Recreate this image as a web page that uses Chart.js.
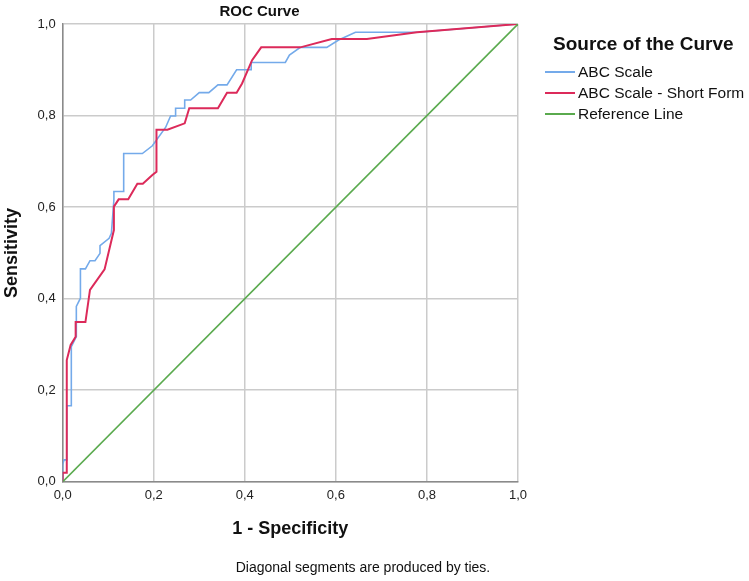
<!DOCTYPE html>
<html><head><meta charset="utf-8">
<script src="https://cdn.jsdelivr.net/npm/chart.js@4/dist/chart.umd.min.js"></script>
<style>
html,body{margin:0;padding:0;background:#fff;}
#wrap{position:relative;width:749px;height:581px;font-family:"Liberation Sans",Arial,sans-serif;color:#111;overflow:hidden;}
#c{position:absolute;left:0;top:0;}
#legend{position:absolute;left:545px;top:33px;}
#legend .ttl{font-weight:bold;font-size:19px;margin-left:8px;line-height:22px;margin-bottom:6px;}
#legend .it{position:relative;height:21px;line-height:21px;font-size:15.5px;padding-left:33px;white-space:nowrap;}
#legend .it span{position:absolute;left:0;top:10px;width:30px;height:2px;}
#note{position:absolute;left:0;width:726px;text-align:center;top:559px;font-size:14px;}
</style></head>
<body>
<div id="wrap">
<canvas id="c" width="580" height="581"></canvas>
<div id="legend"><div class="ttl">Source of the Curve</div>
<div class="it"><span style="background:#74aaea"></span>ABC Scale</div>
<div class="it"><span style="background:#dc2a5a"></span>ABC Scale - Short Form</div>
<div class="it"><span style="background:#5aaa4e"></span>Reference Line</div>
</div>
<div id="note">Diagonal segments are produced by ties.</div>
</div>
<script>
const seriesNames = ["ABC Scale", "ABC Scale - Short Form", "Reference Line"];
const tickValues = [0, 0.2, 0.4, 0.6, 0.8, 1.0];

const abcX = [0, 0, 0.003, 0.009, 0.009, 0.019, 0.019, 0.030, 0.030, 0.039, 0.039, 0.050, 0.060, 0.071, 0.082, 0.082, 0.102, 0.107, 0.1125, 0.1125, 0.134, 0.134, 0.175, 0.197, 0.226, 0.237, 0.248, 0.248, 0.268, 0.268, 0.281, 0.300, 0.321, 0.341, 0.361, 0.382, 0.414, 0.414, 0.489, 0.498, 0.522, 0.580, 0.606, 0.643, 0.780, 1];
const abcY = [0, 0.037, 0.048, 0.048, 0.166, 0.166, 0.295, 0.317, 0.383, 0.401, 0.465, 0.465, 0.483, 0.483, 0.499, 0.516, 0.532, 0.543, 0.616, 0.634, 0.634, 0.717, 0.717, 0.734, 0.774, 0.799, 0.799, 0.816, 0.816, 0.834, 0.834, 0.850, 0.850, 0.867, 0.867, 0.900, 0.900, 0.916, 0.916, 0.932, 0.949, 0.949, 0.965, 0.982, 0.982, 1];

const shortX = [0, 0, 0.009, 0.009, 0.0175, 0.0285, 0.0285, 0.050, 0.060, 0.092, 0.1125, 0.1125, 0.123, 0.144, 0.164, 0.176, 0.197, 0.206, 0.206, 0.230, 0.268, 0.278, 0.341, 0.361, 0.382, 0.394, 0.416, 0.436, 0.522, 0.591, 0.668, 0.778, 1];
const shortY = [0, 0.020, 0.020, 0.266, 0.299, 0.317, 0.349, 0.349, 0.419, 0.464, 0.550, 0.601, 0.617, 0.617, 0.651, 0.651, 0.670, 0.677, 0.769, 0.769, 0.783, 0.816, 0.816, 0.850, 0.850, 0.870, 0.921, 0.949, 0.949, 0.967, 0.967, 0.982, 1];

const refX = [0, 1];
const refY = [0, 1];

const colors = ["#74aaea", "#dc2a5a", "#5aaa4e"];
const widths = [1.6, 2, 1.6];

function pts(xs, ys){ return xs.map((x,i)=>({x:x, y:ys[i]})); }
const seriesData = [pts(abcX, abcY), pts(shortX, shortY), pts(refX, refY)];

const FONT = '"Liberation Sans", Arial, sans-serif';
const fmt = v => Number(v).toFixed(1).replace('.', ',');

new Chart(document.getElementById('c'), {
  type: 'scatter',
  data: {
    datasets: seriesNames.map((n,i)=>({
      label: n, data: seriesData[i], showLine: true, borderColor: colors[i],
      backgroundColor: colors[i], borderWidth: widths[i], pointRadius: 0, tension: 0,
      order: 2 - i
    }))
  },
  options: {
    responsive: false, animation: false,
    layout: { padding: { left: 1, right: 62, top: 0, bottom: 37 } },
    plugins: {
      legend: { display: false },
      tooltip: { enabled: false },
      title: { display: true, text: 'ROC Curve', color: '#111',
        font: { family: FONT, size: 15, weight: 'bold' }, padding: { top: 3, bottom: 3 } }
    },
    scales: {
      x: { type: 'linear', min: 0, max: 1,
        afterBuildTicks: ax => { ax.ticks = tickValues.map(v=>({value:v})); },
        ticks: { callback: fmt, color: '#222', font: { family: FONT, size: 13 }, padding: 6, maxRotation: 0 },
        grid: { color: '#cbcbcb', lineWidth: 1.5, drawTicks: false },
        border: { color: '#8a8a8a', width: 1.5 },
        title: { display: true, text: '1 - Specificity', color: '#111',
          font: { family: FONT, size: 18, weight: 'bold' }, padding: { top: 9, bottom: 4 } }
      },
      y: { type: 'linear', min: 0, max: 1,
        afterBuildTicks: ax => { ax.ticks = tickValues.map(v=>({value:v})); },
        ticks: { callback: fmt, color: '#222', font: { family: FONT, size: 13 }, padding: 7 },
        grid: { color: '#cbcbcb', lineWidth: 1.5, drawTicks: false },
        border: { color: '#8a8a8a', width: 1.5 },
        title: { display: true, text: 'Sensitivity', color: '#111',
          font: { family: FONT, size: 18, weight: 'bold' }, padding: { top: 0, bottom: 8 } }
      }
    }
  }
});
</script>
</body></html>
